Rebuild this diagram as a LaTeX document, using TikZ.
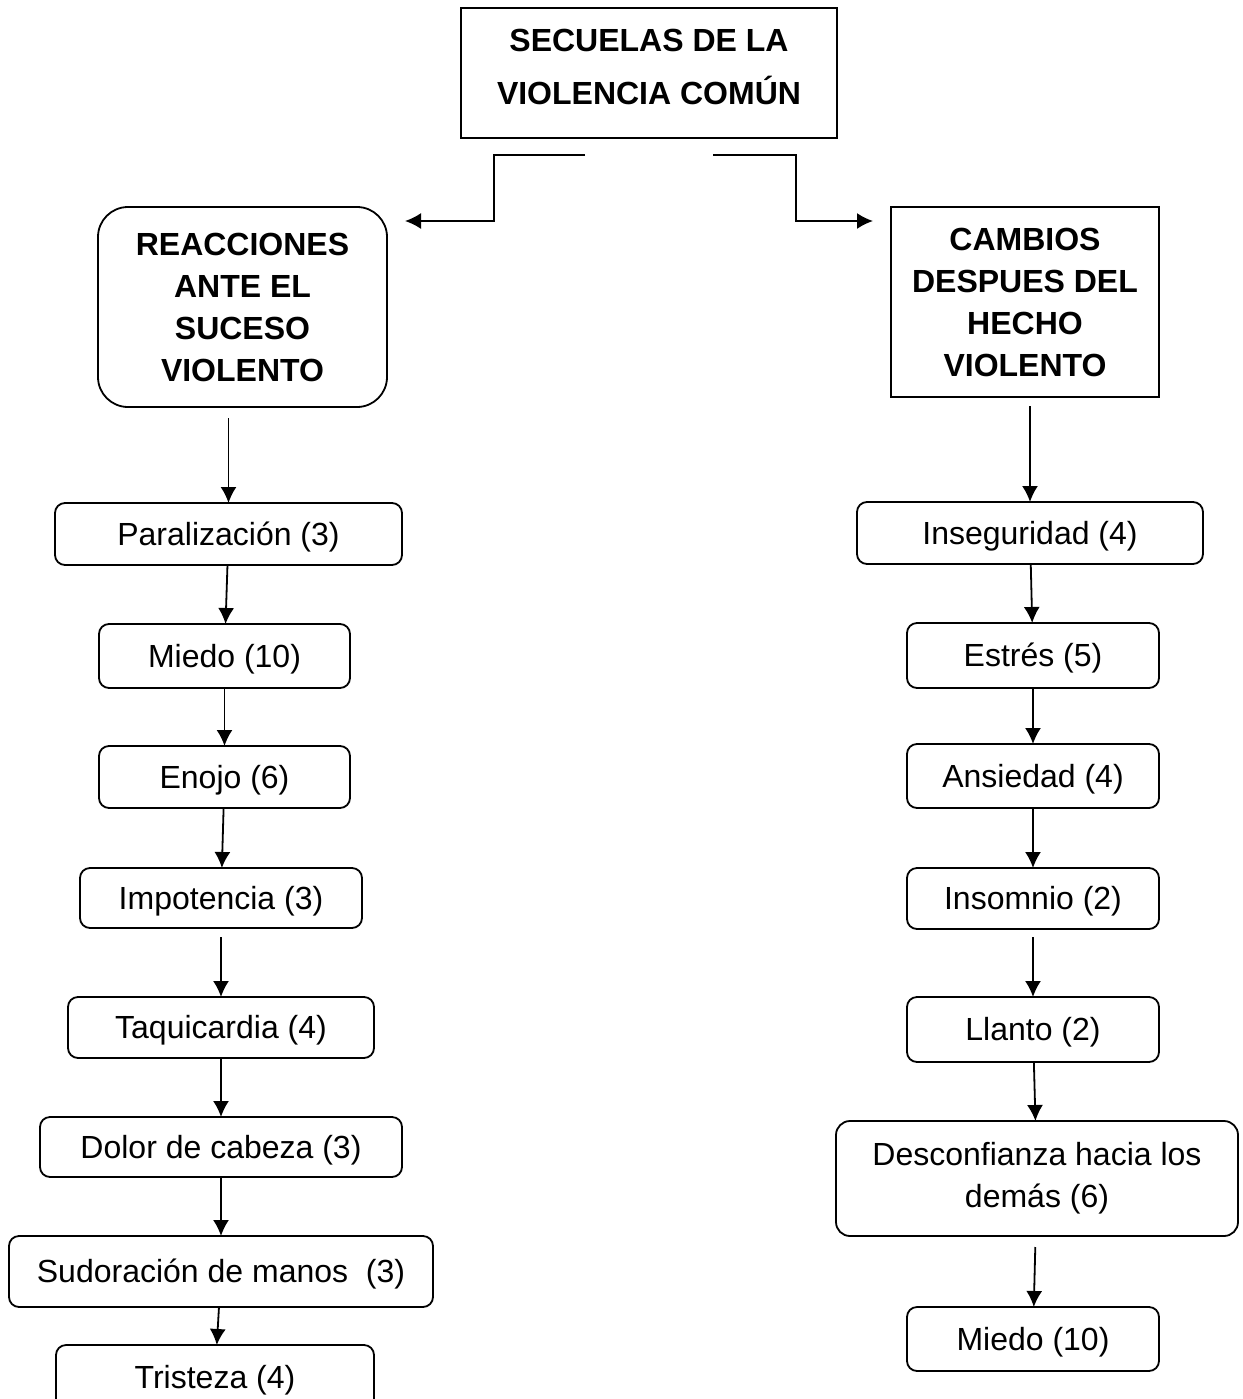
\documentclass[tikz,border=0pt]{standalone}
\usepackage{fontspec}
\setmainfont{Liberation Sans}
\usepackage{tikz}
\usetikzlibrary{positioning}
\usetikzlibrary{arrows,arrows.meta}
\tikzstyle{titlebox} = [draw, rectangle, align=center, inner sep=0pt, outer sep=0pt, text depth=6pt, font=\fontsize{16}{26.5}\selectfont\bfseries]
\tikzstyle{headbox} = [draw, rectangle, align=center, inner sep=0pt, outer sep=0pt, font=\fontsize{16}{21}\selectfont\bfseries]
\tikzstyle{item} = [draw, rectangle, rounded corners=5pt, align=center, inner sep=0pt, outer sep=0pt, text height=11.7pt, text depth=0.5pt, minimum width=126pt, minimum height=31pt, font=\fontsize{16}{21}\selectfont]
\tikzstyle{coord} = [coordinate]

\begin{document}
\begin{tikzpicture}[auto, >={Latex[length=8pt,width=8pt]}, x=0.5pt, y=-0.5pt, line width=0.9pt]
	\useasboundingbox (0,0) rectangle (1243,1399);

	\node [titlebox, minimum width=188pt, minimum height=65pt] (secuelas) at (649,73)
	{SECUELAS DE LA\\VIOLENCIA COMÚN};

	% left branch
	\node [headbox, rounded corners=15pt, minimum width=144.5pt, minimum height=100pt] (reacciones) at (242.5,307)
	{REACCIONES\\ANTE EL\\SUCESO\\VIOLENTO};
	\node [item, minimum width=173.5pt, node distance=48pt, below=of reacciones, xshift=-7pt] (paralizacion) {Paralización (3)};
	\node [item, minimum width=125.5pt, minimum height=32pt, node distance=29.5pt, below=of paralizacion, xshift=-2pt] (miedoL) {Miedo (10)};
	\node [item, minimum width=125.5pt, node distance=29pt, below=of miedoL] (enojo) {Enojo (6)};
	\node [item, minimum width=141pt, minimum height=30pt, node distance=30pt, below=of enojo, xshift=-1.75pt] (impotencia) {Impotencia (3)};
	\node [item, minimum width=153pt, minimum height=30.5pt, node distance=34.5pt, below=of impotencia] (taquicardia) {Taquicardia (4)};
	\node [item, minimum width=181pt, minimum height=30pt, node distance=29.5pt, below=of taquicardia] (dolor) {Dolor de cabeza (3)};
	\node [item, minimum width=212pt, minimum height=35.5pt, node distance=29.5pt, below=of dolor] (sudoracion) {Sudoración de manos\ \ (3)};
	\node [item, minimum width=159pt, minimum height=32pt, node distance=19pt, below=of sudoracion, xshift=-3pt] (tristeza) {Tristeza (4)};

	% right branch
	\node [headbox, minimum width=134pt, minimum height=95pt] (cambios) at (1025,302)
	{CAMBIOS\\DESPUES DEL\\HECHO\\VIOLENTO};
	\node [item, minimum width=173pt, node distance=52.5pt, below=of cambios, xshift=2.5pt] (inseguridad) {Inseguridad (4)};
	\node [item, minimum height=32.5pt, node distance=29.5pt, below=of inseguridad, xshift=1.5pt] (estres) {Estrés (5)};
	\node [item, minimum height=32pt, node distance=28pt, below=of estres] (ansiedad) {Ansiedad (4)};
	\node [item, minimum height=30.5pt, node distance=30pt, below=of ansiedad] (insomnio) {Insomnio (2)};
	\node [item, minimum height=32.5pt, node distance=34pt, below=of insomnio] (llanto) {Llanto (2)};
	\node [item, text height=, text depth=, rounded corners=7pt, minimum width=201pt, minimum height=57.5pt, node distance=29.5pt, below=of llanto, xshift=2pt] (desconfianza)
	{Desconfianza hacia los\\demás (6)};
	\node [item, minimum height=32pt, node distance=35.5pt, below=of desconfianza, xshift=-2pt] (miedoR) {Miedo (10)};

	\coordinate (lbeg) at (585,155);
	\coordinate (lknee) at (494,188);
	\coordinate (lend) at (405,221);
	\coordinate (rbeg) at (713,155);
	\coordinate (rknee) at (796,188);
	\coordinate (rend) at (873,221);

	\draw [->] (lbeg) -| (lknee) |- (lend);
	\draw [->] (rbeg) -| (rknee) |- (rend);

	\draw [->, shorten <=5.5pt] (reacciones.south -| paralizacion.north) -- (paralizacion.north);
	\draw [->] (paralizacion) -- (miedoL);
	\draw [->] (miedoL) -- (enojo);
	\draw [->] (enojo) -- (impotencia);
	\draw [->, shorten <=4.5pt] (impotencia) -- (taquicardia);
	\draw [->] (taquicardia) -- (dolor);
	\draw [->] (dolor) -- (sudoracion);
	\draw [->] (sudoracion) -- (tristeza);

	\draw [->, shorten <=4.5pt] (cambios.south -| inseguridad.north) -- (inseguridad.north);
	\draw [->] (inseguridad) -- (estres);
	\draw [->] (estres) -- (ansiedad);
	\draw [->] (ansiedad) -- (insomnio);
	\draw [->, shorten <=4pt] (insomnio) -- (llanto);
	\draw [->] (llanto) -- (desconfianza);
	\draw [->, shorten <=5.5pt] (desconfianza) -- (miedoR);
\end{tikzpicture}
\end{document}
